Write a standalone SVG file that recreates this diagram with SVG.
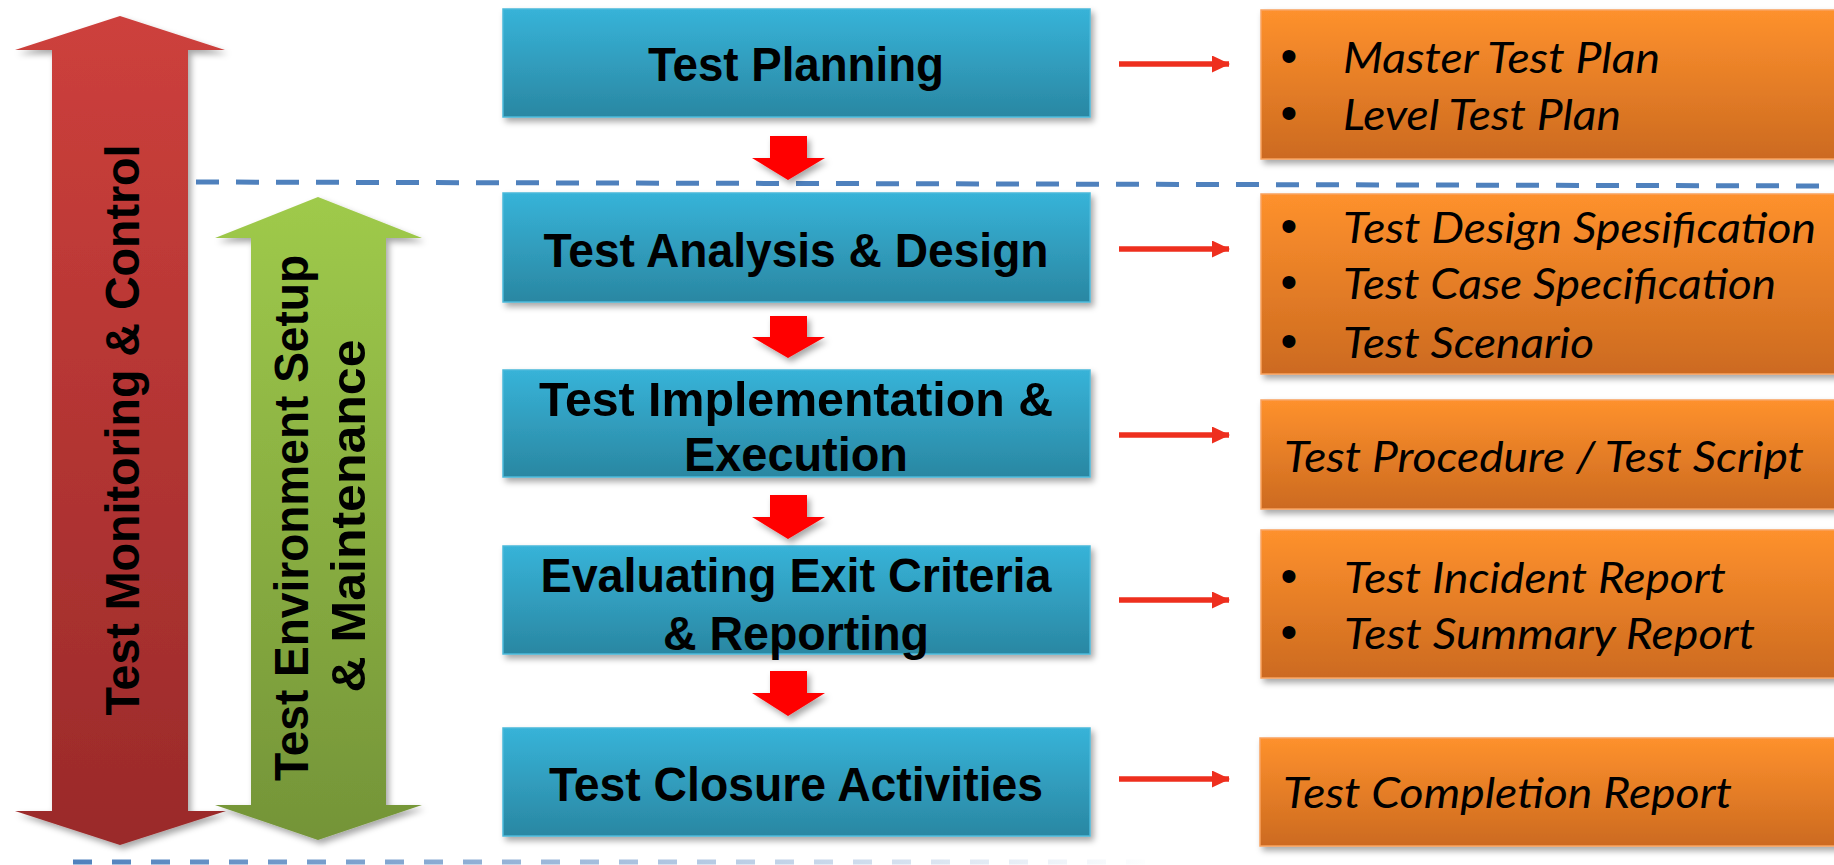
<svg xmlns="http://www.w3.org/2000/svg" width="1834" height="865" viewBox="0 0 1834 865">
<defs>
<linearGradient id="gBlue" x1="0" y1="0" x2="0" y2="1"><stop offset="0" stop-color="#37b3d8"/><stop offset="1" stop-color="#2a87a2"/></linearGradient>
<linearGradient id="gOrange" x1="0" y1="0" x2="0" y2="1"><stop offset="0" stop-color="#fe912d"/><stop offset="1" stop-color="#cc6a20"/></linearGradient>
<linearGradient id="gRed" x1="0" y1="0" x2="0" y2="1"><stop offset="0" stop-color="#cd403c"/><stop offset="1" stop-color="#9a2a2a"/></linearGradient>
<linearGradient id="gGreen" x1="0" y1="0" x2="0" y2="1"><stop offset="0" stop-color="#9fca4b"/><stop offset="1" stop-color="#749438"/></linearGradient>
<linearGradient id="gDash" gradientUnits="userSpaceOnUse" x1="73" y1="0" x2="1160" y2="0"><stop offset="0" stop-color="#4f81bd"/><stop offset="1" stop-color="#4f81bd" stop-opacity="0"/></linearGradient>
<filter id="sh" x="-10%" y="-10%" width="125%" height="130%"><feDropShadow dx="3" dy="4" stdDeviation="3" flood-color="#000" flood-opacity="0.35"/></filter>
<marker id="ah" markerUnits="userSpaceOnUse" markerWidth="18" markerHeight="17" refX="17" refY="8.5" orient="auto"><path d="M0,0 L18,8.5 L0,17 Z" fill="#ee2f1e"/></marker>
</defs>
<style>
.blue{fill:url(#gBlue);stroke:#4bb9da;stroke-width:1.5;filter:url(#sh)}
.orange{fill:url(#gOrange);stroke:#f9a35f;stroke-width:1.5;filter:url(#sh)}
.bt{font-family:"Liberation Sans",Arial,sans-serif;font-weight:bold;font-size:48px;fill:#000;text-anchor:middle}
.ot{font-family:Lato,"Liberation Sans",sans-serif;font-style:italic;font-size:42px;fill:#000}
.bul{font-family:"Liberation Sans",Arial,sans-serif;font-size:48px;fill:#000;text-anchor:middle}
.vt{font-family:"Liberation Sans",Arial,sans-serif;font-weight:bold;font-size:48px;fill:#000;text-anchor:middle}
.down{fill:#ff0000;filter:url(#sh)}
.conn{stroke:#ee2f1e;stroke-width:5.5;fill:none;marker-end:url(#ah)}
</style>
<rect width="1834" height="865" fill="#fff"/>

<g id="dividers">
<line x1="196" y1="182" x2="1834" y2="186" stroke="#4f81bd" stroke-width="5" stroke-dasharray="23 17"/>
<line x1="73" y1="862" x2="1160" y2="862" stroke="url(#gDash)" stroke-width="5" stroke-dasharray="19 20"/>
</g>

<g id="monitoring">
<path d="M120,16 L225,50 L188,50 L188,811 L226,811 L120,845 L15,811 L52,811 L52,50 L15,50 Z" fill="url(#gRed)" filter="url(#sh)"/>
<text class="vt" transform="translate(139,430) rotate(-90)" textLength="571" lengthAdjust="spacingAndGlyphs">Test Monitoring &amp; Control</text>
</g>

<g id="environment">
<path d="M318,197 L422,238 L386,238 L386,805 L422,805 L318,840 L215,805 L251,805 L251,238 L215,238 Z" fill="url(#gGreen)" filter="url(#sh)"/>
<text class="vt" transform="translate(308,518) rotate(-90)" textLength="526" lengthAdjust="spacingAndGlyphs">Test Environment Setup</text>
<text class="vt" transform="translate(365,516) rotate(-90)" textLength="353" lengthAdjust="spacingAndGlyphs">&amp; Maintenance</text>
</g>

<g id="planning">
<rect class="blue" x="503" y="9" width="587" height="108"/>
<text class="bt" x="796" y="81" textLength="296" lengthAdjust="spacingAndGlyphs">Test Planning</text>
</g>
<g id="analysis">
<rect class="blue" x="503" y="193" width="587" height="109"/>
<text class="bt" x="796" y="267" textLength="505" lengthAdjust="spacingAndGlyphs">Test Analysis &amp; Design</text>
</g>
<g id="implementation">
<rect class="blue" x="503" y="370" width="587" height="107"/>
<text class="bt" x="796" y="416" textLength="514" lengthAdjust="spacingAndGlyphs">Test Implementation &amp;</text>
<text class="bt" x="796" y="471" textLength="224" lengthAdjust="spacingAndGlyphs">Execution</text>
</g>
<g id="evaluating">
<rect class="blue" x="503" y="546" width="587" height="108"/>
<text class="bt" x="796" y="592" textLength="511" lengthAdjust="spacingAndGlyphs">Evaluating Exit Criteria</text>
<text class="bt" x="796" y="650" textLength="266" lengthAdjust="spacingAndGlyphs">&amp; Reporting</text>
</g>
<g id="closure">
<rect class="blue" x="503" y="728" width="587" height="108"/>
<text class="bt" x="796" y="801" textLength="494" lengthAdjust="spacingAndGlyphs">Test Closure Activities</text>
</g>

<g id="out-planning">
<rect class="orange" x="1261" y="10" width="590" height="149"/>
<text class="bul" x="1289" y="72">•</text><text class="ot" x="1343" y="73" textLength="317" lengthAdjust="spacingAndGlyphs">Master Test Plan</text>
<text class="bul" x="1289" y="129">•</text><text class="ot" x="1343" y="130" textLength="278" lengthAdjust="spacingAndGlyphs">Level Test Plan</text>
</g>
<g id="out-analysis">
<rect class="orange" x="1261" y="194" width="590" height="180"/>
<text class="bul" x="1289" y="242">•</text><text class="ot" x="1343" y="243" textLength="473" lengthAdjust="spacingAndGlyphs">Test Design Spesification</text>
<text class="bul" x="1289" y="298">•</text><text class="ot" x="1343" y="299" textLength="433" lengthAdjust="spacingAndGlyphs">Test Case Specification</text>
<text class="bul" x="1289" y="357">•</text><text class="ot" x="1343" y="358" textLength="251" lengthAdjust="spacingAndGlyphs">Test Scenario</text>
</g>
<g id="out-implementation">
<rect class="orange" x="1261" y="400" width="590" height="109"/>
<text class="ot" x="1284" y="472" textLength="520" lengthAdjust="spacingAndGlyphs">Test Procedure / Test Script</text>
</g>
<g id="out-evaluating">
<rect class="orange" x="1261" y="530" width="590" height="148"/>
<text class="bul" x="1289" y="592">•</text><text class="ot" x="1344" y="593" textLength="382" lengthAdjust="spacingAndGlyphs">Test Incident Report</text>
<text class="bul" x="1289" y="648">•</text><text class="ot" x="1344" y="649" textLength="411" lengthAdjust="spacingAndGlyphs">Test Summary Report</text>
</g>
<g id="out-closure">
<rect class="orange" x="1260" y="738" width="590" height="108"/>
<text class="ot" x="1283" y="808" textLength="449" lengthAdjust="spacingAndGlyphs">Test Completion Report</text>
</g>

<g id="connectors">
<path class="down" d="M770,136 H807 V158 H825 L788,180 L752,158 H770 Z"/>
<path class="down" d="M770,316 H807 V337 H825 L788,358 L752,337 H770 Z"/>
<path class="down" d="M770,495 H807 V517 H825 L788,539 L752,517 H770 Z"/>
<path class="down" d="M770,671 H807 V693 H825 L788,716 L752,693 H770 Z"/>
<line class="conn" x1="1119" y1="64" x2="1229" y2="64"/>
<line class="conn" x1="1119" y1="249" x2="1229" y2="249"/>
<line class="conn" x1="1119" y1="435" x2="1229" y2="435"/>
<line class="conn" x1="1119" y1="600" x2="1229" y2="600"/>
<line class="conn" x1="1119" y1="779" x2="1229" y2="779"/>
</g>
</svg>
